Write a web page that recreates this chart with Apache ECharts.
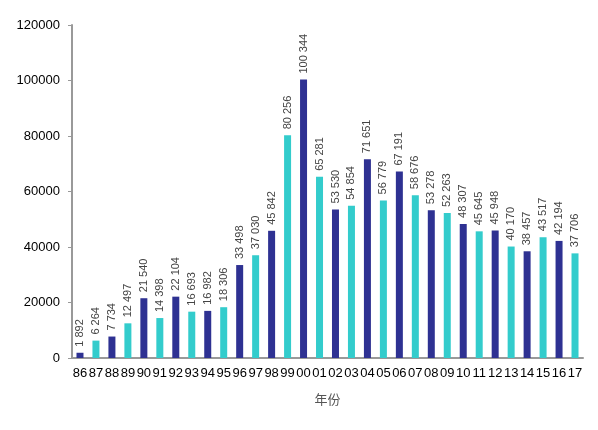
<!DOCTYPE html>
<html>
<head>
<meta charset="utf-8">
<script src="https://cdn.jsdelivr.net/npm/echarts@6/dist/echarts.min.js"></script>
<style>
  html, body { margin: 0; padding: 0; background: #fff; }
  #chart { width: 598px; height: 430px; }
</style>
</head>
<body>
<div id="chart"></div>
<script>
const years = ['86','87','88','89','90','91','92','93','94','95','96','97','98','99',
  '00','01','02','03','04','05','06','07','08','09','10','11','12','13','14','15','16','17'];
const counts = [1892, 6264, 7734, 12497, 21540, 14398, 22104, 16693, 16982, 18306,
  33498, 37030, 45842, 80256, 100344, 65281, 53530, 54854, 71651, 56779,
  67191, 58676, 53278, 52263, 48307, 45645, 45948, 40170, 38457, 43517, 42194, 37706];
const yTicks = [0, 20000, 40000, 60000, 80000, 100000, 120000];

const DARK = '#2E3192';
const CYAN = '#33CCCC';

// 千位空格分隔：1892 -> "1 892"
const fmt = v => String(v).replace(/\B(?=(\d{3})+(?!\d))/g, ' ');

const chart = echarts.init(document.getElementById('chart'));
chart.setOption({
  animation: false,
  grid: { left: 72, right: 15, top: 25, bottom: 72 },
  xAxis: {
    type: 'category',
    data: years,
    name: '年份',
    nameLocation: 'middle',
    nameGap: 35,
    nameTextStyle: { color: '#555', fontSize: 13, fontFamily: 'Noto Sans CJK SC' },
    axisLine: { lineStyle: { color: '#999', width: 2 } },
    axisTick: { show: false },
    axisLabel: { color: '#000', fontSize: 13, fontFamily: 'Liberation Sans', interval: 0, margin: 9 },
  },
  yAxis: {
    type: 'value',
    min: yTicks[0],
    max: yTicks[yTicks.length - 1],
    interval: 20000,
    axisLine: { show: true, lineStyle: { color: '#999', width: 2 } },
    axisTick: { show: true, length: 4, lineStyle: { color: '#999' } },
    splitLine: { show: false },
    axisLabel: { color: '#000', fontSize: 13, fontFamily: 'Liberation Sans', margin: 12, formatter: v => String(v) },
  },
  series: [{
    type: 'bar',
    data: counts.map((v, i) => ({
      value: v,
      itemStyle: { color: i % 2 === 0 ? DARK : CYAN },
    })),
    barWidth: 7,
    label: {
      show: true,
      position: 'top',
      rotate: 90,
      align: 'left',
      verticalAlign: 'middle',
      distance: 6,
      color: '#444',
      fontSize: 11,
      fontFamily: 'Liberation Sans',
      formatter: p => fmt(p.value),
    },
  }],
});
</script>
</body>
</html>
